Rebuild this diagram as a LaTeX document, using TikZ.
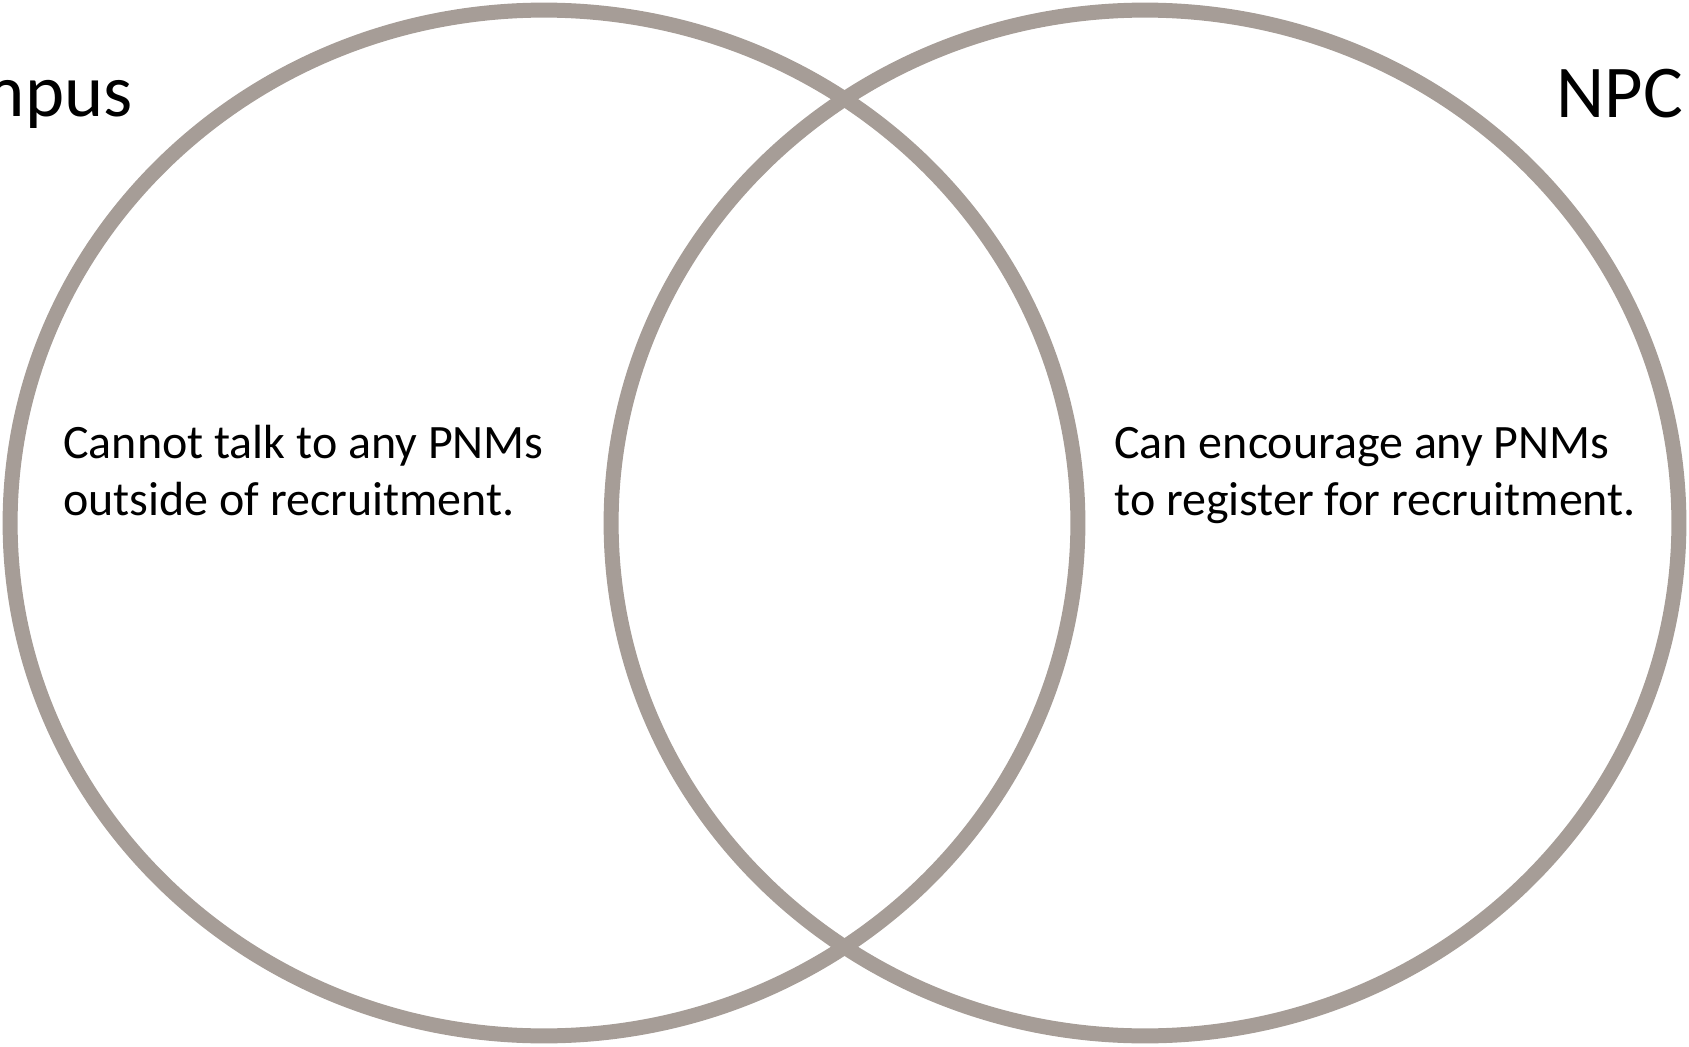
\documentclass[tikz,border=0pt]{standalone}
\usepackage{fontspec}
\setmainfont{Carlito}
\usetikzlibrary{shapes.geometric}
\definecolor{ringgray}{RGB}{166,157,151}

\begin{document}
\begin{tikzpicture}[x=0.02cm,y=-0.02cm,
	set_node/.style={ellipse,draw=ringgray,line width=0.3cm,minimum width=21.36cm,minimum height=20.52cm,inner sep=0pt},
	title_node/.style={font=\fontsize{42.4}{50}\selectfont,inner sep=0pt},
	note_node/.style={font=\fontsize{27.3}{31.9}\selectfont,align=left,inner sep=0pt,anchor=base west}]

		\useasboundingbox (0,0) rectangle (1689,1047);

		\node[set_node] (campus) at (544,523) {};
		\node[set_node] (npc) at (1145,523) {};

		\node[title_node,anchor=base east] (campus_title) at (133,117) {Campus};
		\node[title_node,anchor=base east] (npc_title) at (1683,118) {NPC};

		\node[note_node] (campus_note) at (63,515) {Cannot talk to any PNMs\\outside of recruitment.};
		\node[note_node] (npc_note) at (1114,515) {Can encourage any PNMs\\to register for recruitment.};
\end{tikzpicture}
\end{document}
